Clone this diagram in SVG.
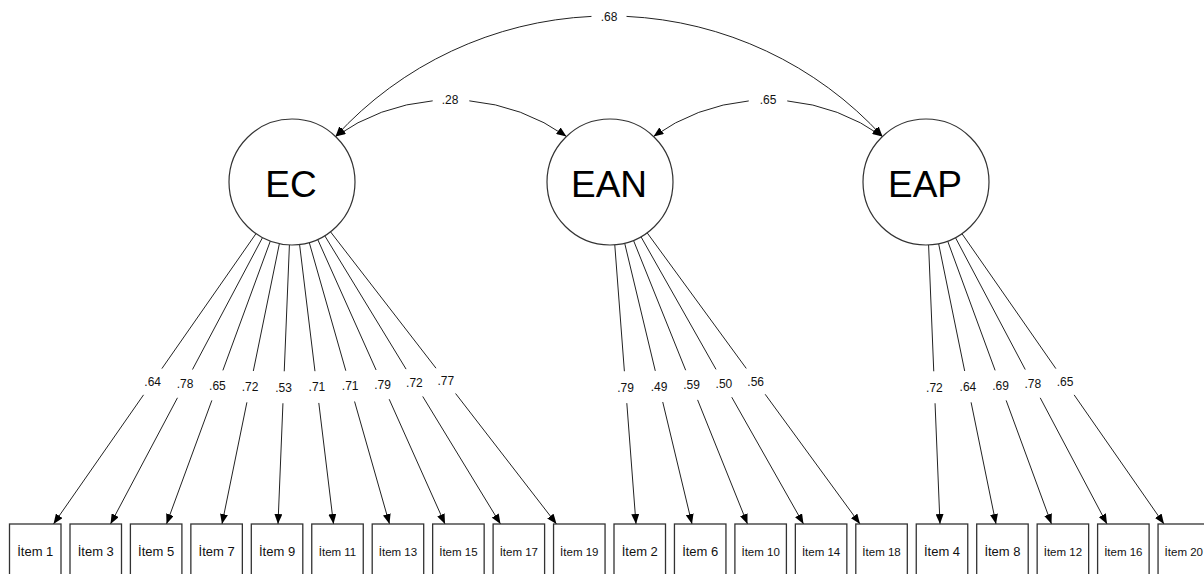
<svg xmlns="http://www.w3.org/2000/svg" width="1204" height="574" viewBox="0 0 1204 574">
<style>
.bg{fill:#fff}
.lat{fill:#fff;stroke:#333;stroke-width:1.2}
.latt{font-family:"Liberation Sans",Arial,sans-serif;font-size:37px;fill:#000;text-anchor:middle}
.box{fill:#fff;stroke:#333;stroke-width:1.3}
.bt{font-family:"Liberation Sans",Arial,sans-serif;font-size:13px;fill:#111;text-anchor:middle}
.bt2{font-size:11.5px}
.ln{fill:none;stroke:#222;stroke-width:1;marker-end:url(#ah)}
.arc{fill:none;stroke:#222;stroke-width:1;marker-start:url(#ah);marker-end:url(#ah)}
.lbl{font-family:"Liberation Sans",Arial,sans-serif;font-size:12px;fill:#111;text-anchor:middle}
</style>
<defs>
<marker id="ah" viewBox="0 0 10 8" refX="10" refY="4" markerWidth="10" markerHeight="8" markerUnits="userSpaceOnUse" orient="auto-start-reverse">
<path d="M0,0 L10,4 L0,8 z" fill="#000"/>
</marker>
</defs>
<rect class="bg" x="0" y="0" width="1204" height="574"/>
<g id="connectors">
<!-- covariances -->
<path class="arc" d="M335.5,136.5 A201,201 0 0 1 566.5,136.5" pathLength="100" style="stroke-dasharray:42.55 14.9 100"/>
<path class="arc" d="M653.5,136.5 A197.8,197.8 0 0 1 882.5,136.5" pathLength="100" style="stroke-dasharray:42.1 15.8 100"/>
<path class="arc" d="M335.5,136.5 A370.6,370.6 0 0 1 882.5,136.5" pathLength="100" style="stroke-dasharray:47.15 5.7 100"/>
<text class="lbl" x="450" y="104.3">.28</text>
<text class="lbl" x="768" y="104.3">.65</text>
<text class="lbl" x="609" y="21">.68</text>
<!-- EC loadings -->
<line class="ln" x1="255.96" y1="233.68" x2="53.5" y2="524" style="stroke-dasharray:164.5 32 1000"/>
<line class="ln" x1="262.47" y1="237.65" x2="110.5" y2="524" style="stroke-dasharray:149.3 32 1000"/>
<line class="ln" x1="270.30" y1="241.14" x2="166.5" y2="524" style="stroke-dasharray:137.66 32 1000"/>
<line class="ln" x1="279.37" y1="243.72" x2="222" y2="524" style="stroke-dasharray:129.91 32 1000"/>
<line class="ln" x1="289.42" y1="244.95" x2="278" y2="524" style="stroke-dasharray:126.44 32 1000"/>
<line class="ln" x1="299.59" y1="244.54" x2="333.5" y2="524" style="stroke-dasharray:127.57 32 1000"/>
<line class="ln" x1="309.27" y1="242.59" x2="389.5" y2="524" style="stroke-dasharray:133.24 32 1000"/>
<line class="ln" x1="317.73" y1="239.51" x2="445" y2="524" style="stroke-dasharray:142.95 32 1000"/>
<line class="ln" x1="324.79" y1="235.79" x2="500.5" y2="524" style="stroke-dasharray:156.15 32 1000"/>
<line class="ln" x1="330.54" y1="231.84" x2="556.5" y2="524" style="stroke-dasharray:172.37 32 1000"/>
<text class="lbl" x="152.7" y="386">.64</text>
<text class="lbl" x="185" y="388">.78</text>
<text class="lbl" x="217.4" y="389.7">.65</text>
<text class="lbl" x="250.1" y="391">.72</text>
<text class="lbl" x="283.6" y="391.6">.53</text>
<text class="lbl" x="316.9" y="391.4">.71</text>
<text class="lbl" x="350.2" y="390.4">.71</text>
<text class="lbl" x="382.6" y="388.9">.79</text>
<text class="lbl" x="414.4" y="387.1">.72</text>
<text class="lbl" x="445.8" y="385.1">.77</text>
<!-- EAN loadings -->
<line class="ln" x1="614.78" y1="244.82" x2="636" y2="524" style="stroke-dasharray:126.79 32 1000"/>
<line class="ln" x1="624.69" y1="243.26" x2="692" y2="524" style="stroke-dasharray:131.23 32 1000"/>
<line class="ln" x1="633.50" y1="240.45" x2="747.5" y2="524" style="stroke-dasharray:139.86 32 1000"/>
<line class="ln" x1="641.02" y1="236.83" x2="803.5" y2="524" style="stroke-dasharray:152.27 32 1000"/>
<line class="ln" x1="647.18" y1="232.86" x2="860" y2="524" style="stroke-dasharray:167.92 32 1000"/>
<text class="lbl" x="625.6" y="391.5">.79</text>
<text class="lbl" x="659" y="390.7">.49</text>
<text class="lbl" x="691.6" y="389.4">.59</text>
<text class="lbl" x="723.9" y="387.6">.50</text>
<text class="lbl" x="755.7" y="385.6">.56</text>
<!-- EAP loadings -->
<line class="ln" x1="928.58" y1="244.95" x2="940" y2="524" style="stroke-dasharray:126.44 32 1000"/>
<line class="ln" x1="938.63" y1="243.72" x2="996" y2="524" style="stroke-dasharray:129.91 32 1000"/>
<line class="ln" x1="947.70" y1="241.14" x2="1051.5" y2="524" style="stroke-dasharray:137.66 32 1000"/>
<line class="ln" x1="955.47" y1="237.68" x2="1107" y2="524" style="stroke-dasharray:149.21 32 1000"/>
<line class="ln" x1="961.99" y1="233.71" x2="1164" y2="524" style="stroke-dasharray:164.37 32 1000"/>
<text class="lbl" x="934.4" y="391.6">.72</text>
<text class="lbl" x="967.9" y="391">.64</text>
<text class="lbl" x="1000.6" y="389.7">.69</text>
<text class="lbl" x="1032.8" y="388">.78</text>
<text class="lbl" x="1065" y="386.1">.65</text>
</g>
<g id="EC"><circle class="lat" cx="292" cy="182" r="63"/><text class="latt" x="291" y="196.5">EC</text></g>
<g id="EAN"><circle class="lat" cx="610" cy="182" r="63"/><text class="latt" x="609" y="196.5">EAN</text></g>
<g id="EAP"><circle class="lat" cx="926" cy="182" r="63"/><text class="latt" x="925" y="196.5">EAP</text></g>
<g id="item1"><rect class="box" x="9.5" y="524" width="51.5" height="60"/><text class="bt" x="35.25" y="556.3">İtem 1</text></g>
<g id="item3"><rect class="box" x="70" y="524" width="51.5" height="60"/><text class="bt" x="95.75" y="556.3">İtem 3</text></g>
<g id="item5"><rect class="box" x="130.4" y="524" width="51.5" height="60"/><text class="bt" x="156.15" y="556.3">İtem 5</text></g>
<g id="item7"><rect class="box" x="190.85" y="524" width="51.5" height="60"/><text class="bt" x="216.6" y="556.3">İtem 7</text></g>
<g id="item9"><rect class="box" x="251.3" y="524" width="51.5" height="60"/><text class="bt" x="277.05" y="556.3">İtem 9</text></g>
<g id="item11"><rect class="box" x="311.75" y="524" width="51.5" height="60"/><text class="bt bt2" x="337.5" y="556">İtem 11</text></g>
<g id="item13"><rect class="box" x="372.2" y="524" width="51.5" height="60"/><text class="bt bt2" x="397.95" y="556">İtem 13</text></g>
<g id="item15"><rect class="box" x="432.65" y="524" width="51.5" height="60"/><text class="bt bt2" x="458.4" y="556">İtem 15</text></g>
<g id="item17"><rect class="box" x="493.1" y="524" width="51.5" height="60"/><text class="bt bt2" x="518.85" y="556">İtem 17</text></g>
<g id="item19"><rect class="box" x="553.55" y="524" width="51.5" height="60"/><text class="bt bt2" x="579.3" y="556">İtem 19</text></g>
<g id="item2"><rect class="box" x="614" y="524" width="51.5" height="60"/><text class="bt" x="639.75" y="556.3">İtem 2</text></g>
<g id="item6"><rect class="box" x="674.45" y="524" width="51.5" height="60"/><text class="bt" x="700.2" y="556.3">İtem 6</text></g>
<g id="item10"><rect class="box" x="734.9" y="524" width="51.5" height="60"/><text class="bt bt2" x="760.65" y="556">İtem 10</text></g>
<g id="item14"><rect class="box" x="795.35" y="524" width="51.5" height="60"/><text class="bt bt2" x="821.1" y="556">İtem 14</text></g>
<g id="item18"><rect class="box" x="855.8" y="524" width="51.5" height="60"/><text class="bt bt2" x="881.55" y="556">İtem 18</text></g>
<g id="item4"><rect class="box" x="916.25" y="524" width="51.5" height="60"/><text class="bt" x="942" y="556.3">İtem 4</text></g>
<g id="item8"><rect class="box" x="976.7" y="524" width="51.5" height="60"/><text class="bt" x="1002.45" y="556.3">İtem 8</text></g>
<g id="item12"><rect class="box" x="1037.15" y="524" width="51.5" height="60"/><text class="bt bt2" x="1062.9" y="556">İtem 12</text></g>
<g id="item16"><rect class="box" x="1097.6" y="524" width="51.5" height="60"/><text class="bt bt2" x="1123.35" y="556">İtem 16</text></g>
<g id="item20"><rect class="box" x="1158.05" y="524" width="51.5" height="60"/><text class="bt bt2" x="1183.8" y="556">İtem 20</text></g>
</svg>
